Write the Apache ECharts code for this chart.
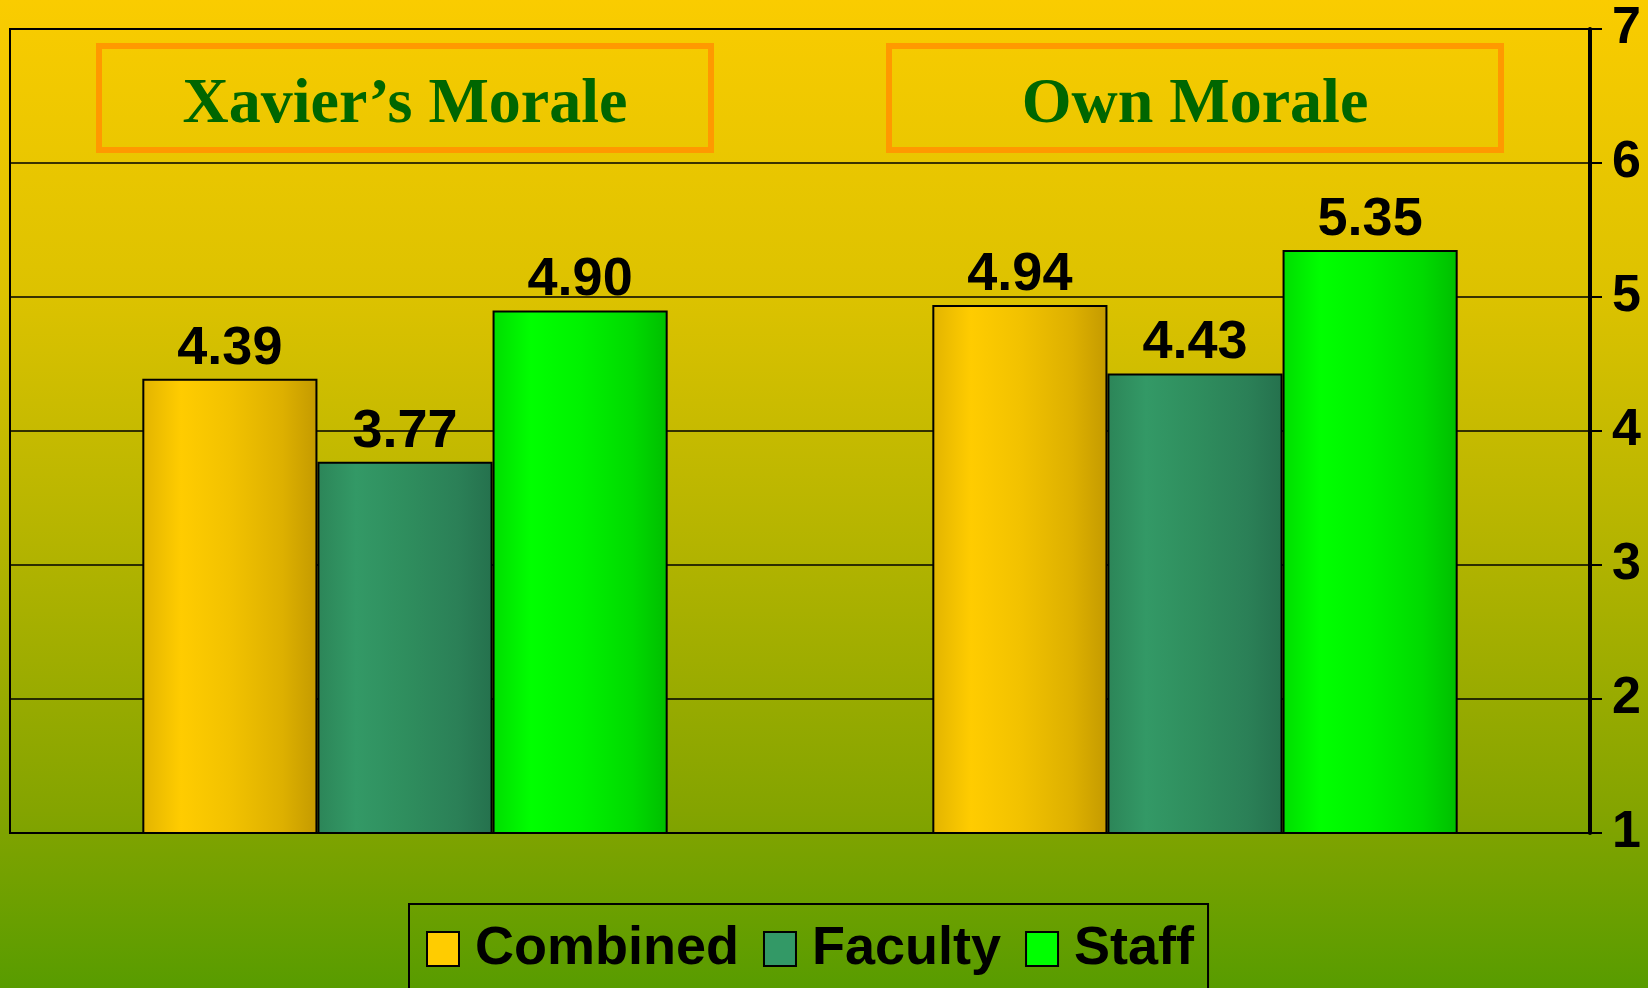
<!DOCTYPE html>
<html>
<head>
<meta charset="utf-8">
<script src="https://cdn.jsdelivr.net/npm/echarts@6/dist/echarts.min.js"></script>
<style>html,body{margin:0;padding:0;}#c{width:1648px;height:988px;}</style>
</head>
<body>
<div id="c"></div>
<script>
const categories = ["Xavier\u2019s Morale", "Own Morale"];
const seriesNames = ["Combined", "Faculty", "Staff"];
const combined = [4.39, 4.94];
const faculty = [3.77, 4.43];
const staff = [4.90, 5.35];
const seriesValues = [combined, faculty, staff];
const legendColors = ["#FFCC00", "#339966", "#00FF00"];
const barShades = [
  ["#E2B400", "#FFCC00", "#F2C200", "#DDB000", "#C49A00"],
  ["#2C8558", "#339966", "#2F8E5E", "#2B8057", "#25714D"],
  ["#00DD00", "#00FF00", "#00F200", "#00DA00", "#00BE00"]
];

function grad(c) {
  return new echarts.graphic.LinearGradient(0, 0, 1, 0, [
    {offset: 0, color: c[0]}, {offset: 0.22, color: c[1]}, {offset: 0.5, color: c[2]},
    {offset: 0.8, color: c[3]}, {offset: 1, color: c[4]}
  ]);
}

const chart = echarts.init(document.getElementById('c'));
chart.setOption({
  backgroundColor: new echarts.graphic.LinearGradient(0, 0, 0, 1, [
    {offset: 0, color: '#FACC00'},
    {offset: 0.3, color: '#DCC200'},
    {offset: 0.55, color: '#B4B400'},
    {offset: 0.82, color: '#84A400'},
    {offset: 1, color: '#589C00'}
  ]),
  animation: false,
  grid: {left: 10, right: 58, top: 29, bottom: 155, show: true, borderColor: '#000', borderWidth: 2, containLabel: false},
  xAxis: {
    type: 'category', position: 'top', data: categories,
    axisLine: {show: true, lineStyle: {color: '#000', width: 2}},
    axisTick: {show: false},
    axisLabel: {
      inside: true, margin: 17, interval: 0,
      color: '#006600', fontFamily: 'Liberation Serif', fontWeight: 'bold', fontSize: 64,
      borderColor: '#FF9900', borderWidth: 6, width: 612, height: 90, lineHeight: 90,
      align: 'center', padding: [14, 0, 0, 0]
    }
  },
  yAxis: {
    type: 'value', position: 'right', min: 1, max: 7, interval: 1,
    axisLine: {show: true, lineStyle: {color: '#000', width: 4}},
    axisTick: {show: true, length: 12, lineStyle: {color: '#000', width: 2}},
    splitLine: {show: true, lineStyle: {color: '#000', width: 1.5}},
    axisLabel: {margin: 22, color: '#000', fontFamily: 'Liberation Sans', fontWeight: 'bold', fontSize: 52}
  },
  legend: {
    left: 409, top: 904, padding: [18, 14, 40, 17], itemWidth: 32, itemHeight: 34, itemGap: 24,
    borderColor: '#000', borderWidth: 2, icon: 'rect',
    data: seriesNames.map((n, i) => ({name: n, itemStyle: {color: legendColors[i], borderColor: '#000', borderWidth: 2}})),
    textStyle: {color: '#000', fontFamily: 'Liberation Sans', fontWeight: 'bold', fontSize: 54, padding: [0, 0, 0, 11]}
  },
  series: seriesNames.map((n, i) => ({
    name: n, type: 'bar', data: seriesValues[i],
    barGap: '0%', barCategoryGap: '33.5%',
    itemStyle: {color: grad(barShades[i]), borderColor: '#000', borderWidth: 2},
    label: {show: true, position: 'top', distance: 3, color: '#000', fontFamily: 'Liberation Sans', fontWeight: 'bold', fontSize: 54,
      formatter: p => p.value.toFixed(2)}
  }))
});
</script>
</body>
</html>
